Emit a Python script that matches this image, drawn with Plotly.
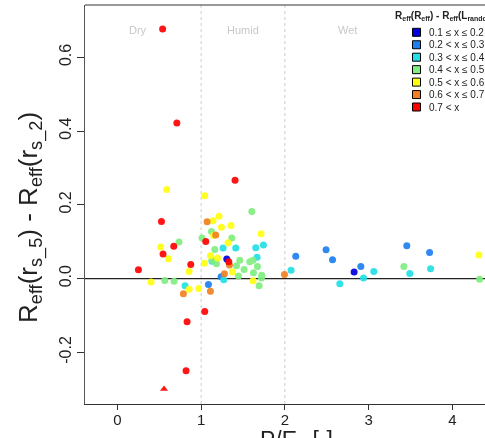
import plotly.graph_objects as go

# ---- data ----
categories = ["0.1 \u2264 x \u2264 0.2", "0.2 < x \u2264 0.3", "0.3 < x \u2264 0.4",
              "0.4 < x \u2264 0.5", "0.5 < x \u2264 0.6", "0.6 < x \u2264 0.7", "0.7 < x"]
colors = ["#0000E0", "#1E7FF0", "#22E0E6", "#80EE80", "#FFFF10", "#F08020", "#FF0000"]

darkblue_x = [1.306, 2.827]
darkblue_y = [0.053, 0.018]
blue_x = [1.238, 2.130, 1.087, 2.492, 2.569, 2.907, 3.456, 3.728]
blue_y = [0.005, 0.061, -0.016, 0.078, 0.051, 0.033, 0.089, 0.071]
cyan_x = [1.262, 1.413, 1.652, 1.744, 1.130, 1.668, 1.270, 2.074, 0.808, 2.656, 2.939, 3.062, 3.492, 3.740]
cyan_y = [0.083, 0.083, 0.084, 0.091, 0.047, 0.058, -0.003, 0.023, -0.019, -0.014, 0.002, 0.019, 0.014, 0.027]
green_x = [1.605, 1.123, 1.011, 0.736, 1.366, 1.163, 1.130, 1.183, 1.461, 1.422, 1.581, 1.620,
           1.672, 1.513, 1.625, 1.724, 1.720, 1.446, 1.692, 0.565, 0.677, 3.421, 4.325]
green_y = [0.182, 0.128, 0.110, 0.099, 0.110, 0.079, 0.050, 0.040, 0.050, 0.035, 0.046, 0.050,
           0.033, 0.025, 0.016, 0.009, 0.002, 0.007, -0.019, -0.005, -0.007, 0.033, -0.002]
yellow_x = [0.589, 1.043, 1.142, 1.214, 1.242, 1.357, 1.716, 1.150, 1.322, 0.517, 0.609, 1.111,
            1.195, 1.374, 1.620, 1.039, 0.856, 0.402, 0.856, 0.971, 4.317]
yellow_y = [0.242, 0.225, 0.157, 0.169, 0.139, 0.144, 0.122, 0.117, 0.097, 0.086, 0.054, 0.062,
            0.056, 0.018, -0.006, 0.042, 0.019, -0.009, -0.029, -0.027, 0.064]
orange_x = [1.071, 1.174, 1.338, 1.278, 1.995, 0.788, 1.111]
orange_y = [0.154, 0.118, 0.037, 0.013, 0.011, -0.041, -0.034]
red_x = [0.540, 0.710, 1.405, 0.526, 1.055, 0.673, 0.545, 1.330, 0.876, 0.251, 1.043, 0.832, 0.820, 0.557]
red_y = [0.677, 0.422, 0.267, 0.155, 0.101, 0.088, 0.067, 0.046, 0.038, 0.024, -0.089, -0.117, -0.250, -0.299]
red_symbols = ["circle"] * 13 + ["triangle-up"]

groups_x = [darkblue_x, blue_x, cyan_x, green_x, yellow_x, orange_x, red_x]
groups_y = [darkblue_y, blue_y, cyan_y, green_y, yellow_y, orange_y, red_y]

region_labels = ["Dry", "Humid", "Wet"]
region_x = [0.24, 1.50, 2.75]
x_ticks = [0, 1, 2, 3, 4]
y_ticks = [-0.2, 0.0, 0.2, 0.4, 0.6]
y_ticktext = ["-0.2", "0.0", "0.2", "0.4", "0.6"]

legend_title = "<b>R<sub>eff</sub>(R<sub>eff</sub>) - R<sub>eff</sub>(L<sub>random</sub>)</b>"
x_title = "P/E<sub>p</sub> [-]"
y_title = "R<sub>eff</sub>(r<sub>s_5</sub>) - R<sub>eff</sub>(r<sub>s_2</sub>)"

FONT = "Liberation Sans, Arial, sans-serif"
TXT = "#222"

# layout geometry (pixels)
W, H = 485, 438
ML, MT, MB, MR = 85, 5, 34, 0
PW, PH = W - ML - MR, H - MT - MB


def px_x(px):
    return (px - ML) / PW


def px_y(py):
    return (H - MB - py) / PH


fig = go.Figure()

for i, (gx, gy) in enumerate(zip(groups_x, groups_y)):
    sym = red_symbols if i == 6 else "circle"
    fig.add_trace(go.Scatter(
        x=gx, y=gy, mode="markers", name=categories[i], showlegend=False,
        marker=dict(color=colors[i], size=7, symbol=sym, line=dict(width=0)),
        opacity=0.92,
    ))

# zero line
fig.add_hline(y=0, line=dict(color=TXT, width=1.3), layer="below")
# region separators
for xv in [1, 2]:
    fig.add_vline(x=xv, line=dict(color="#CCCCCC", width=1, dash="dot"), layer="below")
# top border of the box (right side lies outside the picture)
fig.add_shape(type="line", xref="paper", yref="paper", x0=0, x1=1, y0=1, y1=1,
              line=dict(color="#333", width=1))

for lab, xv in zip(region_labels, region_x):
    fig.add_annotation(x=xv, y=0.675, text=lab, showarrow=False,
                       font=dict(family=FONT, size=11, color="#C8C8C8"))

# ---- legend (drawn manually to keep the compact R-style spacing) ----
fig.add_annotation(xref="paper", yref="paper", x=px_x(393), y=px_y(16),
                   xanchor="left", yanchor="middle", text=legend_title, showarrow=False,
                   font=dict(family=FONT, size=10, color=TXT))
for i, name in enumerate(categories):
    cy = 32.3 + 12.45 * i
    fig.add_shape(type="rect", xref="paper", yref="paper",
                  x0=px_x(412.5), x1=px_x(420.5), y0=px_y(cy + 4), y1=px_y(cy - 4),
                  fillcolor=colors[i], line=dict(color="black", width=1))
    fig.add_annotation(xref="paper", yref="paper", x=px_x(427), y=px_y(cy),
                       xanchor="left", yanchor="middle", text=name, showarrow=False,
                       font=dict(family=FONT, size=10, color=TXT))

# ---- axis titles ----
fig.add_annotation(xref="x", yref="paper", x=(297 - 117.7) / 83.7, y=px_y(425),
                   xanchor="center", yanchor="top", text=x_title, showarrow=False,
                   font=dict(family=FONT, size=23, color=TXT))
fig.add_annotation(xref="paper", yref="paper", x=px_x(30), y=px_y(218),
                   xanchor="center", yanchor="middle", textangle=-90, text=y_title,
                   showarrow=False, font=dict(family=FONT, size=26, color=TXT))

fig.update_layout(
    width=W, height=H,
    margin=dict(l=ML, r=MR, t=MT, b=MB, autoexpand=False),
    paper_bgcolor="white", plot_bgcolor="white",
    font=dict(family=FONT, color=TXT),
    showlegend=False,
    xaxis=dict(
        range=[-0.387, 4.39], tickvals=x_ticks, ticktext=[str(v) for v in x_ticks],
        showgrid=False, zeroline=False, showline=True, linecolor="#333", linewidth=1,
        mirror=False, ticks="outside", ticklen=5, tickcolor="#333",
        tickfont=dict(size=15, family=FONT, color=TXT), ticklabelstandoff=-3,
        automargin=False,
    ),
    yaxis=dict(
        range=[-0.34, 0.742], tickvals=y_ticks, ticktext=y_ticktext,
        showgrid=False, zeroline=False, showline=True, linecolor="#555", linewidth=1,
        mirror=False, ticks="outside", ticklen=7, tickcolor="#333", tickangle=-90,
        tickfont=dict(size=16, family=FONT, color=TXT),
        automargin=False,
    ),
)

fig.write_html("out.html")
